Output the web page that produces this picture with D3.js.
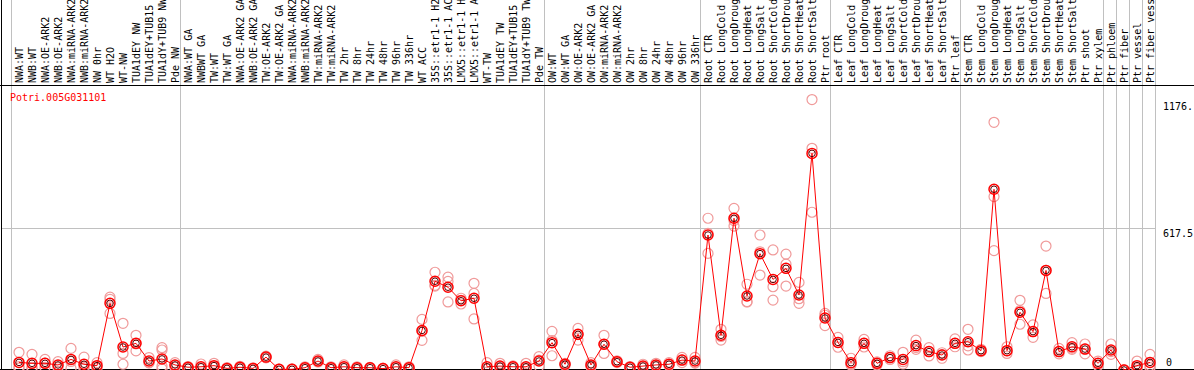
<!DOCTYPE html>
<html>
<head>
<meta charset="utf-8">
<script src="https://cdn.jsdelivr.net/npm/d3@7"></script>
<style>
  body { margin: 0; background: #fff; overflow: hidden; }
  text { font-family: "DejaVu Sans Mono", monospace; font-size: 10px; }
</style>
</head>
<body>
<script>
const geneName = "Potri.005G031101";

// sample labels as they show in the header (long names are cut at the top)
const samples = [
  "NWA:WT", "NWB:WT", "NWA:OE-ARK2", "NWB:OE-ARK2", "NWA:miRNA-ARK2", "NWB:miRNA-ARK2",
  "NW 0hr", "WT H2O", "WT-NW", "TUA1dEY NW", "TUA1dEY+TUB15", "TUA1dY+TUB9 NW", "Pde NW",
  "NWA:WT GA", "NWBWT GA", "TW:WT", "TW:WT GA", "NWA:OE-ARK2 GA", "NWB:OE-ARK2 GA",
  "TW:OE-ARK2", "TW:OE-ARK2 GA", "NWA:miRNA-ARK2", "NWB:miRNA-ARK2", "TW:miRNA-ARK2",
  "TW:miRNA-ARK2", "TW 2hr", "TW 8hr", "TW 24hr", "TW 48hr", "TW 96hr", "TW 336hr",
  "WT ACC", "35S::etr1-1 H2", "35S::etr1-1 AC", "LMX5::etr1-1 H", "LMX5::etr1-1 A",
  "WT-TW", "TUA1dEY TW", "TUA1dEY+TUB15", "TUA1dY+TUB9 TW", "Pde TW",
  "OW:WT", "OW:WT GA", "OW:OE-ARK2", "OW:OE-ARK2 GA", "OW:miRNA-ARK2", "OW:miRNA-ARK2",
  "OW 2hr", "OW 8hr", "OW 24hr", "OW 48hr", "OW 96hr", "OW 336hr",
  "Root CTR", "Root LongCold", "Root LongDroug", "Root LongHeat", "Root LongSalt",
  "Root ShortCold", "Root ShortDrou", "Root ShortHeat", "Root ShortSalt", "Ptr root",
  "Leaf CTR", "Leaf LongCold", "Leaf LongDroug", "Leaf LongHeat", "Leaf LongSalt",
  "Leaf ShortCold", "Leaf ShortDrou", "Leaf ShortHeat", "Leaf ShortSalt", "Ptr leaf",
  "Stem CTR", "Stem LongCold", "Stem LongDroug", "Stem LongHeat", "Stem LongSalt",
  "Stem ShortCold", "Stem ShortDrou", "Stem ShortHeat", "Stem ShortSalt", "Ptr shoot",
  "Ptr xylem", "Ptr phloem", "Ptr fiber", "Ptr vessel", "Ptr fiber vess"
];

const means = [
  33, 29, 29, 22, 46, 25, 19, 290, 100, 116, 39, 48, 22,
  12, 14, 19, 7, 12, 7, 56, 3, 3, 10, 39, 10, 14, 10, 10, 6, 14, 10,
  172, 386, 360, 301, 312, 14, 17, 14, 14, 39,
  119, 25, 155, 22, 112, 36, 12, 17, 22, 25, 43, 39,
  587, 151, 660, 322, 506, 394, 442, 326, 942, 226,
  120, 32, 116, 29, 54, 46, 106, 80, 65, 116,
  123, 84, 786, 84, 251, 167, 433, 80, 101, 91,
  29, 87, 0, 19, 33
];

const replicates = [
  [77, 15, 8], [68, 12, 8], [46, 30, 12], [36, 20, 10], [94, 37, 7], [56, 14, 5],
  [32, 18, 7], [317, 246, 307], [203, 72, 25], [151, 83, 114], [54, 32, 31],
  [97, 87, 17, 5], [32, 20, 12],
  [15, 10, 8], [26, 8, 8], [29, 15, 12], [10, 5, 5], [16, 10, 8], [9, 6, 5],
  [60, 55, 53], [4, 3, 2], [5, 3, 1], [14, 10, 6], [46, 36, 35], [14, 10, 6],
  [22, 12, 8], [14, 10, 6], [12, 10, 8], [8, 6, 4], [22, 12, 8], [14, 10, 6],
  [220, 129, 168], [425, 365, 368], [404, 385, 296], [312, 303, 287], [377, 333, 222],
  [32, 6, 5], [29, 14, 8], [18, 14, 10], [29, 10, 5], [58, 43, 17],
  [168, 128, 62], [29, 25, 20], [181, 154, 130], [32, 20, 14], [151, 112, 72],
  [40, 36, 32], [15, 12, 9], [25, 15, 11], [29, 20, 17], [32, 24, 19], [55, 43, 32], [55, 32, 30],
  [660, 594, 507], [177, 146, 130], [703, 650, 626], [373, 297, 296], [587, 514, 413],
  [522, 362, 304], [504, 460, 365], [381, 310, 290], [1176, 964, 686], [246, 238, 193],
  [142, 120, 99], [51, 25, 22], [133, 116, 100], [35, 29, 22], [62, 54, 46],
  [77, 36, 26], [130, 98, 90], [97, 80, 61], [75, 67, 51], [135, 116, 101],
  [177, 105, 87], [90, 82, 80], [1077, 754, 519], [101, 84, 72], [303, 258, 199],
  [196, 167, 142], [539, 433, 333], [94, 80, 70], [119, 95, 90], [113, 91, 70],
  [39, 29, 19], [113, 80, 68], [2, 0, 0], [39, 12, 6], [68, 20, 10]
];

// group separators (column index where a vertical grid line sits)
const groupBreaks = [0, 13, 41, 53, 63, 73, 84, 85, 86, 87, 88];

const yMax = 1235;
const yTicks = [0, 617.5];
const maxLabel = "1176.";
const maxValue = 1176;

const width = 1194;
const height = 370;
const plotTop = 85;
const plotBottom = 369;

const svg = d3.select("body").append("svg")
    .attr("width", width)
    .attr("height", height);

const x = d3.scaleBand()
    .domain(d3.range(samples.length))
    .range([11, 11 + 13 * samples.length]);

const y = d3.scaleLinear()
    .domain([0, yMax])
    .range([370, 86]);

const px = i => x(i) + 8;
const colEdge = i => (i < samples.length ? x(i) : x(samples.length - 1) + x.step());

// vertical grid
svg.selectAll("line.vgrid")
    .data(groupBreaks)
    .enter().append("line")
    .attr("x1", d => colEdge(d) + 0.5)
    .attr("x2", d => colEdge(d) + 0.5)
    .attr("y1", 0)
    .attr("y2", plotBottom)
    .attr("stroke", "#c0c0c0");

// horizontal grid
svg.append("line")
    .attr("x1", 1).attr("x2", 1155)
    .attr("y1", Math.round(y(yTicks[1])) + 0.5)
    .attr("y2", Math.round(y(yTicks[1])) + 0.5)
    .attr("stroke", "#c0c0c0");

// frame
svg.append("line").attr("x1", 0).attr("x2", width).attr("y1", plotTop + 0.5).attr("y2", plotTop + 0.5).attr("stroke", "#000");
svg.append("line").attr("x1", 0).attr("x2", width).attr("y1", plotBottom + 0.5).attr("y2", plotBottom + 0.5).attr("stroke", "#000");
svg.append("line").attr("x1", 1.5).attr("x2", 1.5).attr("y1", 0).attr("y2", height).attr("stroke", "#000");

// sample labels
svg.selectAll("text.sample")
    .data(samples)
    .enter().append("text")
    .attr("class", "sample")
    .attr("transform", (d, i) => `translate(${px(i) + 4}, 83) rotate(-90)`)
    .attr("fill", "#000")
    .text(d => d);

// gene name
svg.append("text")
    .attr("x", 10)
    .attr("y", 101)
    .attr("fill", "#f00")
    .text(geneName);

// right value labels
svg.append("text").attr("x", 1163).attr("y", y(maxValue) + 10).text(maxLabel);
svg.append("text").attr("x", 1163).attr("y", y(yTicks[1]) + 9).text(yTicks[1]);
svg.append("text").attr("x", 1166).attr("y", Math.min(y(yTicks[0]) + 10, 366)).text(yTicks[0]);

const plot = svg.append("g");

// replicate points
const reps = [];
replicates.forEach((r, i) => r.forEach(v => reps.push([i, v])));
plot.selectAll("circle.rep")
    .data(reps)
    .enter().append("circle")
    .attr("cx", d => px(d[0]))
    .attr("cy", d => y(d[1]))
    .attr("r", 5)
    .attr("fill", "none")
    .attr("stroke", "#f09a9a")
    .attr("stroke-width", 1.2);

// mean line
const line = d3.line()
    .x((d, i) => px(i))
    .y(d => y(d));

plot.append("path")
    .datum(means)
    .attr("d", line)
    .attr("fill", "none")
    .attr("stroke", "#f00")
    .attr("stroke-width", 1);

plot.selectAll("circle.mean")
    .data(means)
    .enter().append("circle")
    .attr("cx", (d, i) => px(i))
    .attr("cy", d => y(d))
    .attr("r", 5)
    .attr("fill", "none")
    .attr("stroke", "#f00")
    .attr("stroke-width", 1.5);

plot.selectAll("circle.meanin")
    .data(means)
    .enter().append("circle")
    .attr("cx", (d, i) => px(i))
    .attr("cy", d => y(d))
    .attr("r", 3.3)
    .attr("fill", "none")
    .attr("stroke", "#500")
    .attr("stroke-width", 1);
</script>
</body>
</html>
